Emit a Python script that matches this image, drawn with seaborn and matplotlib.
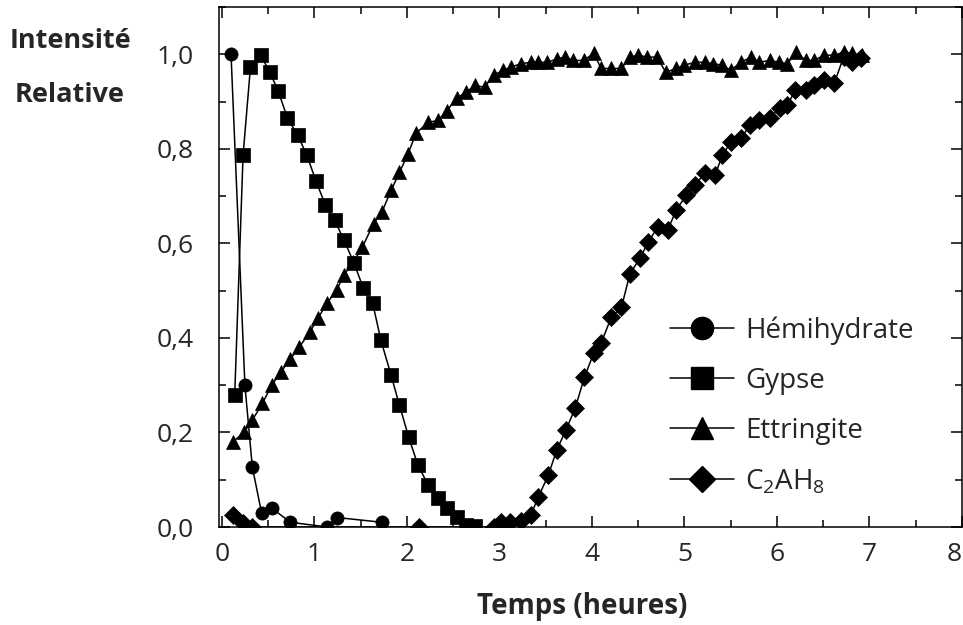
import numpy as np
import pandas as pd
import seaborn as sns
import matplotlib.pyplot as plt
from matplotlib.lines import Line2D
from matplotlib.ticker import MultipleLocator, FuncFormatter

# --- data ---
hemi_x = [0.10, 0.25, 0.33, 0.43, 0.54, 0.74, 1.14, 1.25, 1.73]
hemi_y = [1.0, 0.30, 0.127, 0.03, 0.04, 0.01, 0.0, 0.02, 0.01]

gypse_x = [0.14, 0.23, 0.31, 0.42, 0.52, 0.61, 0.71, 0.82, 0.92, 1.02,
           1.12, 1.22, 1.32, 1.43, 1.53, 1.63, 1.72, 1.83, 1.92, 2.02,
           2.12, 2.23, 2.34, 2.43, 2.54, 2.64, 2.74]
gypse_y = [0.28, 0.786, 0.973, 0.998, 0.962, 0.922, 0.865, 0.829, 0.786, 0.731,
           0.681, 0.649, 0.607, 0.558, 0.505, 0.474, 0.395, 0.321, 0.258, 0.190,
           0.131, 0.089, 0.061, 0.040, 0.021, 0.004, 0.002]

ettr_x = [0.12, 0.24, 0.33, 0.44, 0.54, 0.64, 0.74, 0.84, 0.95, 1.04, 1.14, 1.24, 1.32,
          1.42, 1.52, 1.64, 1.73, 1.83, 1.92, 2.01, 2.10,
          2.23, 2.34, 2.43, 2.54, 2.64, 2.74, 2.84, 2.94,
          3.04, 3.13, 3.23, 3.34, 3.42, 3.52, 3.62, 3.71, 3.80, 3.91,
          4.02, 4.10, 4.21, 4.32, 4.41, 4.50, 4.60, 4.70, 4.80, 4.91,
          5.00, 5.11, 5.22, 5.31, 5.41, 5.50, 5.61, 5.72, 5.81, 5.92,
          6.02, 6.11, 6.21, 6.31, 6.40, 6.51, 6.62, 6.72, 6.81, 6.92]
ettr_y = [0.18, 0.20, 0.226, 0.262, 0.30, 0.328, 0.355, 0.381, 0.412, 0.442, 0.474, 0.501, 0.533,
          0.56, 0.592, 0.642, 0.666, 0.712, 0.75, 0.788, 0.833,
          0.856, 0.86, 0.88, 0.907, 0.92, 0.934, 0.93, 0.956,
          0.966, 0.973, 0.98, 0.983, 0.983, 0.983, 0.99, 0.994, 0.987, 0.987,
          1.002, 0.970, 0.970, 0.970, 0.994, 0.998, 0.994, 0.994, 0.962, 0.970,
          0.977, 0.983, 0.983, 0.98, 0.977, 0.966, 0.983, 0.994, 0.983, 0.987,
          0.983, 0.98, 1.004, 0.987, 0.987, 0.998, 0.998, 1.004, 1.002, 0.998]

c2ah8_x = [0.12, 0.23, 0.33, 2.13, 2.94,
           3.02, 3.12, 3.23, 3.34, 3.42, 3.53, 3.62, 3.72, 3.82, 3.92,
           4.02, 4.10, 4.21, 4.32, 4.41, 4.52, 4.61, 4.71, 4.82, 4.91,
           5.02, 5.11, 5.22, 5.33, 5.41, 5.50, 5.61, 5.71, 5.81, 5.92,
           6.03, 6.11, 6.20, 6.31, 6.40, 6.51, 6.62, 6.72, 6.81, 6.91]
c2ah8_y = [0.025, 0.008, 0.0, 0.0, 0.0,
           0.01, 0.01, 0.013, 0.025, 0.063, 0.11, 0.163, 0.205, 0.252, 0.317,
           0.368, 0.389, 0.444, 0.465, 0.535, 0.569, 0.603, 0.634, 0.628, 0.670,
           0.702, 0.723, 0.748, 0.744, 0.786, 0.814, 0.822, 0.85, 0.86, 0.865,
           0.886, 0.892, 0.924, 0.924, 0.934, 0.945, 0.939, 0.994, 0.983, 0.992]

phases = ['Hémihydrate', 'Gypse', 'Ettringite', 'C2AH8']
labels = ['Hémihydrate', 'Gypse', 'Ettringite',
          r'C$_\mathregular{2}$AH$_\mathregular{8}$']
markers = {'Hémihydrate': 'o', 'Gypse': 's', 'Ettringite': '^', 'C2AH8': 'D'}

series = zip(phases, [hemi_x, gypse_x, ettr_x, c2ah8_x], [hemi_y, gypse_y, ettr_y, c2ah8_y])
df = pd.concat([pd.DataFrame({'Temps': x, 'Intensite': y, 'Phase': p}) for p, x, y in series],
               ignore_index=True)

# --- style ---
sns.set_style('ticks')
plt.rcParams['font.family'] = ['Open Sans', 'DejaVu Sans']
plt.rcParams['mathtext.fontset'] = 'custom'
plt.rcParams['mathtext.rm'] = 'Open Sans'

fig = plt.figure(figsize=(9.63, 6.25), dpi=100)
ax = fig.add_axes([219 / 963, 1 - 527 / 625, 743 / 963, 520 / 625])

sns.lineplot(data=df, x='Temps', y='Intensite', style='Phase', markers=markers,
             dashes=False, color='black', markersize=9.5, markeredgecolor='black',
             markeredgewidth=0.5, linewidth=1.1, sort=False, estimator=None,
             legend=False, ax=ax)

ax.set_xlim(-0.03, 8.0)
ax.set_ylim(0, 1.1)
ax.xaxis.set_major_locator(MultipleLocator(1))
ax.xaxis.set_minor_locator(MultipleLocator(0.5))
ax.yaxis.set_major_locator(MultipleLocator(0.2))
ax.yaxis.set_minor_locator(MultipleLocator(0.1))
ax.yaxis.set_major_formatter(FuncFormatter(lambda v, _: f'{v:.1f}'.replace('.', ',')))
# the "8" sits on the right edge: drawn separately, right-aligned, so it stays inside
ax.xaxis.set_major_formatter(FuncFormatter(lambda v, _: '' if v > 7.5 else f'{v:.0f}'))
ax.annotate('8', xy=(8.0, 0), xycoords=('data', 'axes fraction'), xytext=(0, -11),
            textcoords='offset points', ha='right', va='top', fontsize=19)
ax.tick_params(which='both', direction='in', top=True, right=True, width=1.1, color='black')
ax.tick_params(which='major', length=8)
ax.tick_params(which='minor', length=5)
ax.tick_params(axis='y', which='major', labelsize=19, pad=18)
ax.tick_params(axis='x', which='major', labelsize=19, pad=11)
for s in ax.spines.values():
    s.set_linewidth(1.1)
    s.set_color('black')

ax.set_ylabel('')
ax.set_xlabel('Temps (heures)', fontsize=20, fontweight='bold')
ax.xaxis.set_label_coords((582 - 219) / 743, (527 - 592) / 520)
fig.text(70 / 963, 1 - 68.5 / 625, 'Intensité\nRelative', fontsize=19.5, fontweight='bold',
         ha='center', va='center', multialignment='center', linespacing=2.4)

handles = [Line2D([], [], color='black', lw=1.1, marker=markers[p], markersize=16 if p != 'C2AH8' else 13,
                  markerfacecolor='black', markeredgecolor='black') for p in phases]
ax.legend(handles, labels, loc='center left', bbox_to_anchor=((670 - 219) / 743, (527 - 406) / 520),
          frameon=False, fontsize=20, handlelength=2.3, handletextpad=0.4, labelspacing=0.8,
          borderpad=0, borderaxespad=0)

fig.savefig('out.png', dpi=100)
